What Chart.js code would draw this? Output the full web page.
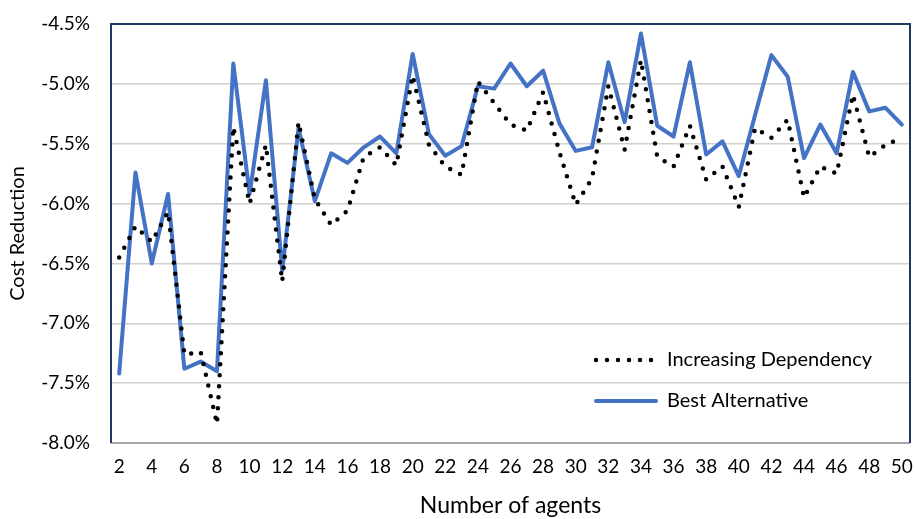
<!DOCTYPE html>
<html>
<head>
<meta charset="utf-8">
<script src="https://cdn.jsdelivr.net/npm/chart.js@4.4.1/dist/chart.umd.min.js"></script>
<style>
  html, body { margin: 0; padding: 0; background: #fff; }
</style>
</head>
<body>
<canvas id="costChart" width="915" height="519"></canvas>
<script>
// number of agents on the x axis
const agents = [2, 3, 4, 5, 6, 7, 8, 9, 10, 11, 12, 13, 14, 15, 16, 17, 18, 19, 20, 21, 22, 23, 24, 25,
  26, 27, 28, 29, 30, 31, 32, 33, 34, 35, 36, 37, 38, 39, 40, 41, 42, 43, 44, 45, 46, 47, 48, 49, 50]

// cost reduction in %
const increasingDependency = [-6.45, -6.19, -6.32, -6.07, -7.26, -7.24, -7.84, -5.36, -6.00, -5.51, -6.65, -5.32,
  -5.96, -6.18, -6.06, -5.61, -5.53, -5.68, -4.93, -5.51, -5.69, -5.76, -4.98, -5.16, -5.34, -5.39, -5.07,
  -5.57, -6.01, -5.79, -5.02, -5.55, -4.80, -5.61, -5.69, -5.35, -5.80, -5.69, -6.03, -5.37, -5.45, -5.30,
  -5.95, -5.69, -5.75, -5.09, -5.61, -5.51, -5.45]

const bestAlternative = [-7.42, -5.74, -6.50, -5.92, -7.38, -7.32, -7.40, -4.83, -5.92, -4.97, -6.56, -5.37,
  -5.98, -5.58, -5.66, -5.53, -5.44, -5.58, -4.75, -5.42, -5.60, -5.52, -5.02, -5.04, -4.83, -5.02, -4.89,
  -5.33, -5.56, -5.53, -4.82, -5.32, -4.58, -5.35, -5.44, -4.82, -5.59, -5.48, -5.77, -5.26, -4.76, -4.94,
  -5.62, -5.34, -5.58, -4.90, -5.23, -5.20, -5.34]

const seriesNames = ["Increasing Dependency", "Best Alternative"]
const yMin = -8.0
const yMax = -4.5
const yStep = 0.5

Chart.defaults.font.family = 'Lato, "Noto Sans", sans-serif'
Chart.defaults.color = '#000'

// navy frame on top/left/right, grey line at the bottom (like the excel plot area)
const plotFrame = {
  id: 'plotFrame',
  beforeDatasetsDraw(chart) {
    const { ctx, chartArea: a } = chart
    ctx.save()
    ctx.lineWidth = 2
    ctx.strokeStyle = '#a6a6a6'
    ctx.beginPath()
    ctx.moveTo(a.left, a.bottom)
    ctx.lineTo(a.right, a.bottom)
    ctx.stroke()
    ctx.strokeStyle = '#203864'
    ctx.beginPath()
    ctx.moveTo(a.left, a.bottom)
    ctx.lineTo(a.left, a.top)
    ctx.lineTo(a.right, a.top)
    ctx.lineTo(a.right, a.bottom)
    ctx.stroke()
    ctx.restore()
  }
}

// legend sits inside the plot, bottom right
const insideLegend = {
  id: 'insideLegend',
  afterDraw(chart) {
    const { ctx, chartArea: a } = chart
    const x0 = a.right - 314
    const rows = [a.bottom - 83, a.bottom - 42]
    chart.data.datasets.forEach((ds, i) => {
      const y = rows[i]
      ctx.save()
      ctx.strokeStyle = ds.borderColor
      ctx.lineWidth = ds.borderWidth
      ctx.lineCap = ds.borderCapStyle
      ctx.setLineDash(ds.borderDash || [])
      ctx.beginPath()
      ctx.moveTo(x0, y)
      ctx.lineTo(x0 + 60, y)
      ctx.stroke()
      ctx.setLineDash([])
      ctx.fillStyle = '#000'
      ctx.font = '20px Lato, "Noto Sans", sans-serif'
      ctx.textBaseline = 'middle'
      ctx.fillText(ds.label, x0 + 71, y)
      ctx.restore()
    })
  }
}

const ctx = document.getElementById('costChart').getContext('2d')

new Chart(ctx, {
  type: 'line',
  data: {
    labels: agents,
    datasets: [
      {
        label: seriesNames[0],
        data: increasingDependency,
        borderColor: '#000000',
        borderWidth: 4.5,
        borderDash: [0, 11],
        borderCapStyle: 'round',
        borderJoinStyle: 'round',
        pointRadius: 0,
        tension: 0,
        fill: false
      },
      {
        label: seriesNames[1],
        data: bestAlternative,
        borderColor: '#4472C4',
        borderWidth: 4,
        borderCapStyle: 'round',
        borderJoinStyle: 'round',
        pointRadius: 0,
        tension: 0,
        fill: false
      }
    ]
  },
  options: {
    responsive: false,
    devicePixelRatio: 1,
    animation: false,
    layout: {
      padding: { top: 24, right: 5, left: 0, bottom: 0 }
    },
    plugins: {
      legend: { display: false },
      tooltip: { enabled: false }
    },
    scales: {
      x: {
        offset: true,
        grid: { display: false, drawTicks: false },
        border: { display: false },
        ticks: {
          autoSkip: false,
          maxRotation: 0,
          padding: 12,
          font: { size: 19 },
          callback: function (value, index) {
            return agents[index] % 2 === 0 ? agents[index] : ''
          }
        },
        title: {
          display: true,
          text: 'Number of agents',
          font: { size: 23 },
          padding: { top: 0, bottom: 0 }
        },
        afterFit: function (scale) {
          scale.height = 76
          scale.paddingLeft = 0
          scale.paddingRight = 0
        }
      },
      y: {
        min: yMin,
        max: yMax,
        grid: {
          drawTicks: false,
          color: function (c) {
            return (c.tick && (c.tick.value === yMin || c.tick.value === yMax)) ? 'rgba(0,0,0,0)' : '#d0d0d0'
          },
          lineWidth: 1.5
        },
        border: { display: false },
        ticks: {
          stepSize: yStep,
          padding: 21,
          font: { size: 19 },
          callback: function (v) { return v.toFixed(1) + '%' }
        },
        title: {
          display: true,
          text: 'Cost Reduction',
          font: { size: 20 },
          padding: { top: 6, bottom: 0 }
        },
        afterFit: function (scale) {
          scale.width = 111
          scale.paddingTop = 0
          scale.paddingBottom = 0
        }
      }
    }
  },
  plugins: [plotFrame, insideLegend]
})
</script>
</body>
</html>
